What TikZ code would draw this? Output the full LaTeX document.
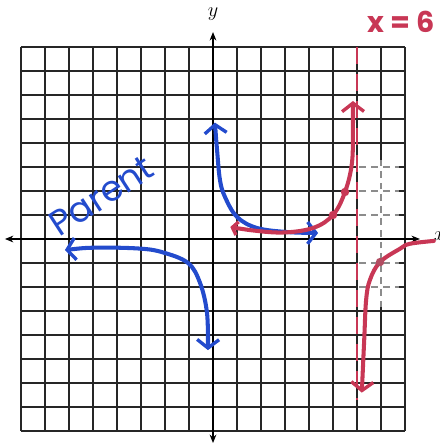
\documentclass[tikz,border=0pt]{standalone}
\usepackage{fontspec}
\newfontfamily\hand{Poppins}
\usetikzlibrary{arrows.meta}
\definecolor{penblue}{RGB}{35,75,205}
\definecolor{penred}{RGB}{200,55,85}
\tikzset{
  barbtip/.tip={Straight Barb[length=5pt,width=13pt,line width=2pt]},
  smallbarbtip/.tip={Straight Barb[length=3pt,width=8pt,line width=2pt]}
}
\begin{document}
\begin{tikzpicture}[x=0.5cm,y=0.5cm,
  gridline/.style={line width=0.9pt, black!85},
  axisline/.style={line width=0.7pt, black, {Stealth[length=5pt,width=4pt]}-{Stealth[length=5pt,width=4pt]}},
  whiteline/.style={line width=0.8pt, black!45, dash pattern=on 4pt off 3pt},
  bluecurve/.style={penblue, line width=2.4pt, line cap=round, line join=round},
  redcurve/.style={penred, line width=2.4pt, line cap=round, line join=round},
  asym/.style={penred, line width=1.6pt, dash pattern=on 10pt off 6pt},
  dotmark/.style={circle, fill=penred, inner sep=0pt, minimum size=5pt}]
\useasboundingbox (-8.875,-8.708) rectangle (9.417,9.958);
% grid
\draw[gridline, step=0.5cm] (-8,-8) grid (8,8);
% white-out patch
\fill[white] (6.06,-2.85) rectangle (7.75,3.3);
\draw[whiteline] (7,-2.85) -- (7,3.3);
\foreach \yy in {3,2,1,-1,-2} \draw[whiteline] (6.1,\yy) -- (7.75,\yy);
% axes
\draw[axisline] (-8.67,0) -- (8.62,0);
\draw[axisline] (0,-8.5) -- (0,8.62);
\node[font=\large] (ylab) at (0,9.35) {$y$};
\node[font=\large, anchor=west] (xlab) at (8.95,0.12) {$x$};
% asymptote
\draw[asym] (6,8) -- (6,-6.7);
\node[penred, font=\hand\bfseries\fontsize{17}{17}\selectfont] (asylab) at (7.85,9.05) {x = 6};
% parent curve
\draw[bluecurve, barbtip-barbtip] plot[smooth, tension=0.6] coordinates {(0.08,4.85) (0.17,3.7) (0.29,2.46) (0.5,1.75) (1.0,0.92) (1.83,0.46) (3.08,0.29) (4.38,0.25)};
\draw[bluecurve, barbtip-barbtip] plot[smooth, tension=0.6] coordinates {(-6.17,-0.46) (-4.83,-0.36) (-3.04,-0.4) (-2.08,-0.56) (-1.04,-1.0) (-0.54,-1.83) (-0.25,-3.08) (-0.21,-4.63)};
\node[penblue, rotate=33, font=\hand\fontsize{21}{21}\selectfont] (parent) at (-4.65,1.8) {Parent};
% transformed curve
\draw[redcurve, smallbarbtip-barbtip] plot[smooth, tension=0.6] coordinates {(0.72,0.5) (1.54,0.37) (2.9,0.27) (4.17,0.46) (5.0,1.0) (5.5,1.96) (5.79,3.17) (5.83,4.67) (5.83,5.75)};
\draw[redcurve, -barbtip] plot[smooth, tension=0.6] coordinates {(9.2,-0.08) (8.2,-0.2) (7.8,-0.4) (6.96,-0.96) (6.54,-1.7) (6.38,-2.54) (6.3,-4.2) (6.2,-6.4)};
\node[dotmark] (p1) at (5.0,1.0) {};
\node[dotmark] (p2) at (5.5,1.96) {};
\node[dotmark, fill=penred!70!gray] (p3) at (6.96,-0.96) {};
\end{tikzpicture}
\end{document}
